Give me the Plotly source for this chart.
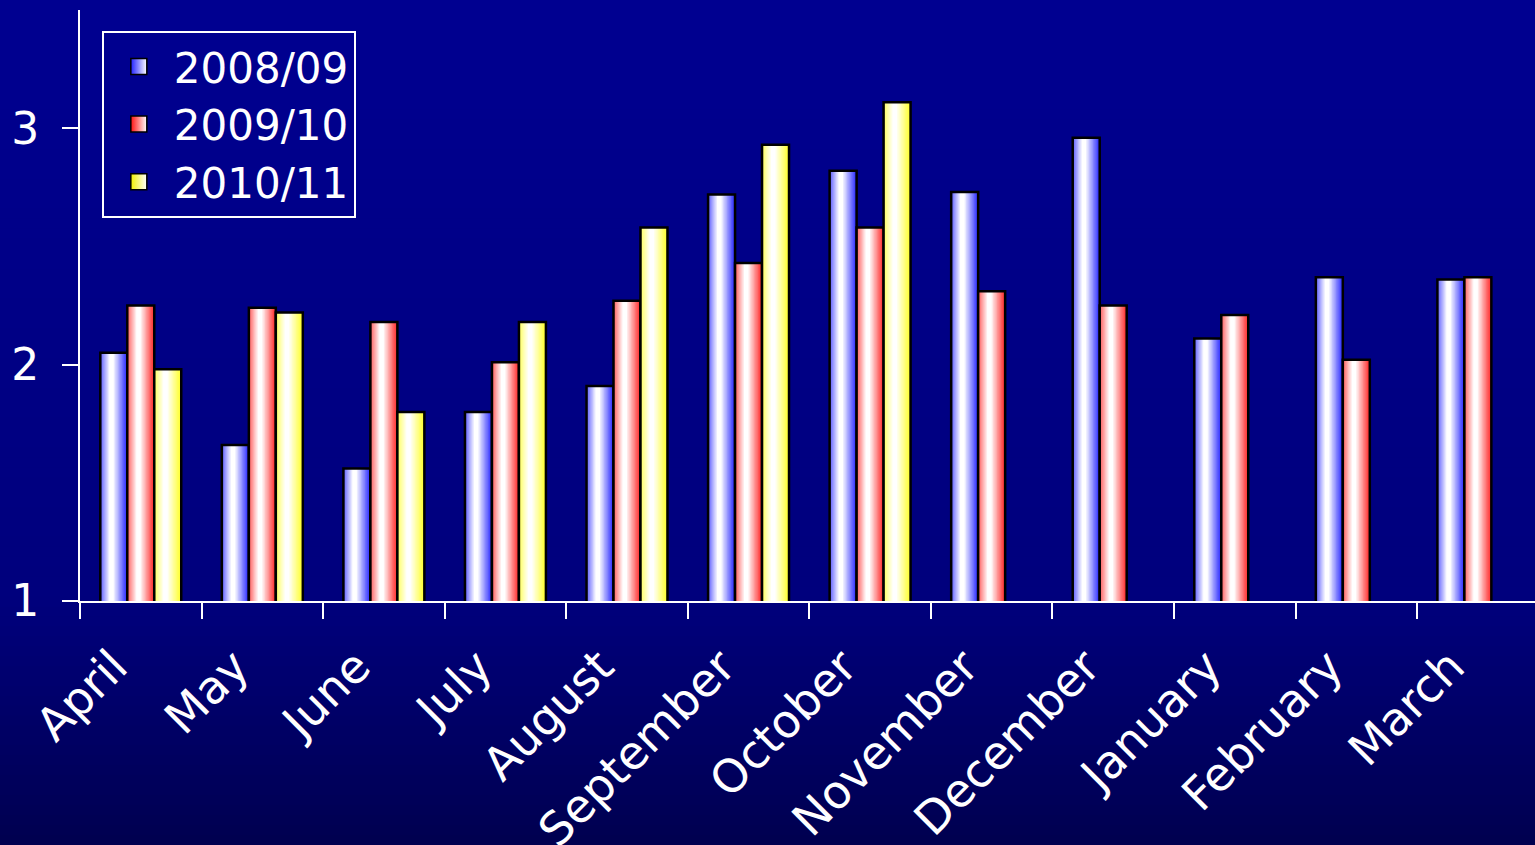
import plotly.graph_objects as go

months = ["April", "May", "June", "July", "August", "September", "October",
          "November", "December", "January", "February", "March"]
series_names = ["2008/09", "2009/10", "2010/11"]
s2008 = [2.05, 1.66, 1.56, 1.80, 1.91, 2.72, 2.82, 2.73, 2.96, 2.11, 2.37, 2.36]
s2009 = [2.25, 2.24, 2.18, 2.01, 2.27, 2.43, 2.58, 2.31, 2.25, 2.21, 2.02, 2.37]
s2010 = [1.98, 2.22, 1.80, 2.18, 2.58, 2.93, 3.11, None, None, None, None, None]
y_ticks = [1, 2, 3]

series_values = [s2008, s2009, s2010]
base_colors = [(0, 0, 255), (255, 0, 0), (255, 255, 0)]
legend_colors = ["#2020FF", "#FF1010", "#F0F000"]

FONT = "DejaVu Sans"
BAR_W = 0.222
offsets = [-0.333, -0.111, 0.111]

fig = go.Figure()

# background gradient (decoration)
W, H = 1535, 845
top_px, bot_px = 10, 601
ph = bot_px - top_px
nstrip = 85
for i in range(nstrip):
    y0 = i * H / nstrip
    y1 = (i + 1) * H / nstrip
    ym = (y0 + y1) / 2
    if ym < 600:
        b = 145 - (145 - 125) * ym / 600
    else:
        b = 125 - (125 - 80) * (ym - 600) / (H - 600)
    fig.add_shape(type="rect", xref="paper", yref="paper",
                  x0=-0.1, x1=1.1,
                  y0=(bot_px - y1 - 1) / ph, y1=(bot_px - y0) / ph,
                  fillcolor=f"rgb(0,0,{int(b)})", line=dict(width=0), layer="below")

# gradient layers for the bars (white plateau between p1 and p2)
K = 10
p1, p2, w0, w1 = 0.33, 0.5, 0.4, 0.18


def mix(c, w):
    return "rgb(%d,%d,%d)" % tuple(int(ci + (255 - ci) * w) for ci in c)


for si, (name, vals) in enumerate(zip(series_names, series_values)):
    c = base_colors[si]
    for k in range(K + 1):
        wk = min(w0, w1) + (1 - min(w0, w1)) * k / K
        a = max(0.0, p1 * (wk - w0) / (1 - w0))
        bnd = min(1.0, p2 + (1 - p2) * (1 - wk) / (1 - w1))
        fig.add_trace(go.Bar(
            x=months, y=vals, name=name, showlegend=False, legendgroup=name,
            offset=offsets[si] + a * BAR_W, width=(bnd - a) * BAR_W,
            marker=dict(color=mix(c, wk), line=dict(width=0)),
            hoverinfo="skip"))
    # outline
    fig.add_trace(go.Bar(
        x=months, y=vals, name=name, showlegend=False, legendgroup=name,
        offset=offsets[si], width=BAR_W,
        marker=dict(color="rgba(0,0,0,0)", line=dict(color="black", width=2.5))))

# legend entries
for si, name in enumerate(series_names):
    fig.add_trace(go.Scatter(
        x=[None], y=[None], mode="markers", name=name, legendgroup=name,
        marker=dict(symbol="square", size=16, color=legend_colors[si],
                    gradient=dict(type="horizontal", color="white"),
                    line=dict(color="black", width=1.5))))

fig.update_layout(
    width=W, height=H,
    barmode="overlay",
    paper_bgcolor="rgb(0,0,100)",
    plot_bgcolor="rgba(0,0,0,0)",
    margin=dict(l=80, r=0, t=top_px, b=H - bot_px, autoexpand=False),
    font=dict(family=FONT, color="white", size=40),
    legend=dict(x=0.015, y=0.965, xanchor="left", yanchor="top",
                bgcolor="rgba(0,0,0,0)", bordercolor="white", borderwidth=2,
                font=dict(family=FONT, size=42, color="white"),
                itemsizing="trace", tracegroupgap=0, itemwidth=60),
    xaxis=dict(type="category", range=[-0.5, 11.47], automargin=False,
               showline=True, linecolor="white", linewidth=2,
               ticks="outside", tickson="boundaries", ticklen=16,
               tickcolor="white", tickwidth=2, tickangle=-45,
               tickfont=dict(family=FONT, size=46, color="white"),
               ticklabelshift=-27, ticklabelstandoff=18,
               showgrid=False, zeroline=False),
    yaxis=dict(range=[1, 3.5], tickvals=y_ticks, automargin=False,
               showline=True, linecolor="white", linewidth=2,
               ticks="outside", ticklen=16, tickcolor="white", tickwidth=2,
               tickfont=dict(family=FONT, size=44, color="white"),
               ticklabelstandoff=14,
               showgrid=False, zeroline=False),
)

fig.write_html("out.html", config={"displayModeBar": False},
               post_script="document.body.style.margin='0';")
